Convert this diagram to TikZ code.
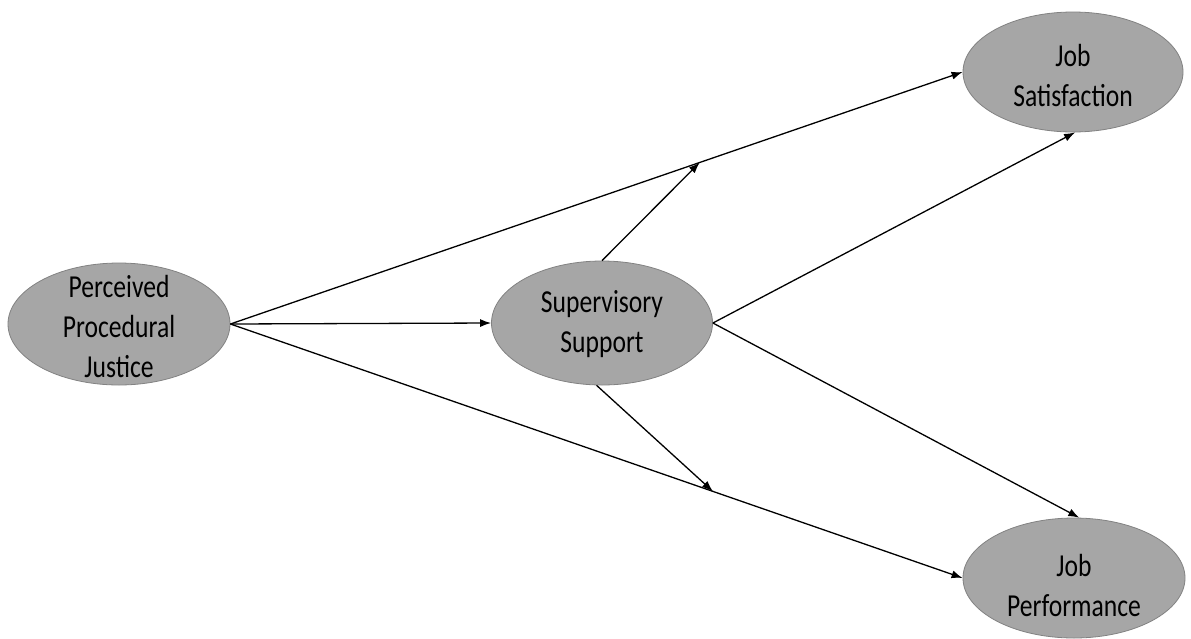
\documentclass[tikz,border=0pt]{standalone}
\usepackage{fontspec}
\setmainfont{Carlito}[FakeStretch=0.8]
\usetikzlibrary{shapes.geometric,arrows.meta,calc}
\definecolor{ellfill}{RGB}{166,166,166}
\definecolor{elldraw}{RGB}{130,130,130}
\begin{document}
\begin{tikzpicture}[x=1pt,y=-1pt,
  construct/.style={ellipse, draw=elldraw, line width=0.8pt, fill=ellfill, inner sep=0pt},
  lbl/.style={align=center, text=black, font=\fontsize{32}{40}\selectfont, inner sep=0pt},
  path/.style={draw=black, line width=1.3pt, -{Latex[length=11pt,width=8pt]}}]
\useasboundingbox[fill=white] (0,0) rectangle (1191,638);
\node[construct, minimum width=222pt, minimum height=122pt] (ppj) at (119,324) {};
\node[construct, minimum width=221pt, minimum height=124pt] (ss) at (602,323) {};
\node[construct, minimum width=220pt, minimum height=120pt] (js) at (1073,72) {};
\node[construct, minimum width=222pt, minimum height=120pt] (jp) at (1074,578) {};
\node[lbl] (tppj) at (119,326) {Perceived\\Procedural\\Justice};
\node[lbl] (tss) at (602,324) {Supervisory\\Support};
\node[lbl] (tjs) at (1073,76) {Job\\Satisfaction};
\node[lbl] (tjp) at (1074,585) {Job\\Performance};
\coordinate (m1) at ($(ppj.east)!0.641!(js.west)$);
\coordinate (m2) at ($(ppj.east)!0.659!(jp.west)$);
\draw[path] (ppj.east) -- (js.west);
\draw[path] (ppj.east) -- (ss.west);
\draw[path] (ppj.east) -- (jp.west);
\draw[path] (ss.north) -- (m1);
\draw[path] (ss.-95) -- (m2);
\draw[path] (ss.east) -- (js.-88);
\draw[path] (ss.east) -- (jp.85);
\end{tikzpicture}
\end{document}
